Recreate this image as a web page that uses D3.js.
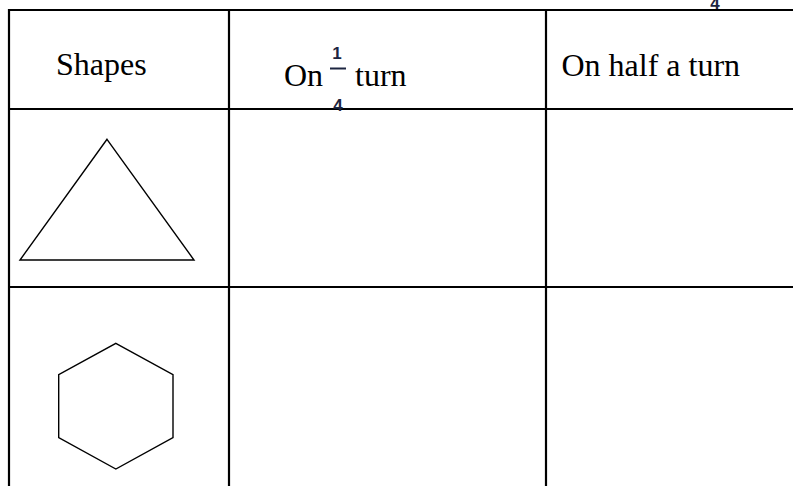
<!DOCTYPE html>
<html>
<head>
<meta charset="utf-8">
<script src="https://cdn.jsdelivr.net/npm/d3@7"></script>
<style>
  body { margin: 0; background: #fff; }
  svg { display: block; }
</style>
</head>
<body>
<div id="chart"></div>
<script>
// table content
var headers = ["Shapes", "On", "On half a turn"];
var fractionTop = "1";
var fractionBottom = "4";
var headerTail = "turn";
var rowShapes = ["triangle", "hexagon"];

// shape outlines in unit coordinates (0..1 inside their box)
var triangle = [[0.5, 0], [1, 1], [0, 1]];
var hexagon = [[0.5, 0], [1, 0.25], [1, 0.75], [0.5, 1], [0, 0.75], [0, 0.25]];
var shapePoints = { triangle: triangle, hexagon: hexagon };

var width = 793, height = 486;
var colEdges = [9, 229, 546, 800];
var rowEdges = [10, 109, 287, 500];
// box of each shape inside its cell
var shapeBox = {
  triangle: { x: [20, 194], y: [139.3, 260] },
  hexagon: { x: [58.7, 173], y: [343.3, 469] }
};

var svg = d3.select("#chart")
  .append("svg")
  .attr("width", width)
  .attr("height", height);

svg.append("rect")
  .attr("width", width)
  .attr("height", height)
  .attr("fill", "#fff");

var fracFont = "Liberation Sans, Arial, sans-serif";
var fracColor = "#1c2540";

// stray denominator peeking above the table
svg.append("text")
  .attr("x", 715)
  .attr("y", 9)
  .attr("text-anchor", "middle")
  .attr("font-family", fracFont)
  .attr("font-weight", "bold")
  .attr("font-size", "17px")
  .attr("fill", fracColor)
  .text(fractionBottom);

// grid lines
var gGrid = svg.append("g")
  .attr("stroke", "#000")
  .attr("stroke-width", 2.2);

gGrid.selectAll(".h-line")
  .data(rowEdges.slice(0, 3))
  .enter()
  .append("line")
  .attr("class", "h-line")
  .attr("x1", colEdges[0] - 1)
  .attr("x2", width)
  .attr("y1", function(d) { return d; })
  .attr("y2", function(d) { return d; });

gGrid.selectAll(".v-line")
  .data(colEdges.slice(0, 3))
  .enter()
  .append("line")
  .attr("class", "v-line")
  .attr("x1", function(d) { return d; })
  .attr("x2", function(d) { return d; })
  .attr("y1", rowEdges[0] - 1)
  .attr("y2", height);

// header texts
var serif = "Liberation Serif, Times New Roman, serif";
var gHead = svg.append("g")
  .attr("font-family", serif)
  .attr("font-size", "32px")
  .attr("fill", "#000");

gHead.append("text").attr("x", 56).attr("y", 75).text(headers[0]);
gHead.append("text").attr("x", 284).attr("y", 85.5).text(headers[1]);
gHead.append("text").attr("x", 355).attr("y", 85.5).text(headerTail);
gHead.append("text").attr("x", 561.5).attr("y", 76).text(headers[2]);

// the 1/4 fraction
var gFrac = svg.append("g")
  .attr("font-family", fracFont)
  .attr("font-weight", "bold")
  .attr("font-size", "17px")
  .attr("fill", fracColor)
  .attr("text-anchor", "middle");

gFrac.append("text").attr("x", 337).attr("y", 59).text(fractionTop);
gFrac.append("text").attr("x", 338).attr("y", 111).text(fractionBottom);
gFrac.append("line")
  .attr("x1", 330).attr("x2", 346)
  .attr("y1", 68.5).attr("y2", 68.5)
  .attr("stroke", fracColor)
  .attr("stroke-width", 2);

// shapes drawn through scales from unit coordinates
var gShapes = svg.append("g")
  .attr("fill", "none")
  .attr("stroke", "#000")
  .attr("stroke-width", 1.4)
  .attr("stroke-linejoin", "miter");

gShapes.selectAll("polygon")
  .data(rowShapes)
  .enter()
  .append("polygon")
  .attr("points", function(d) {
    var box = shapeBox[d];
    var sx = d3.scaleLinear().domain([0, 1]).range(box.x);
    var sy = d3.scaleLinear().domain([0, 1]).range(box.y);
    return shapePoints[d].map(function(p) {
      return sx(p[0]) + "," + sy(p[1]);
    }).join(" ");
  });
</script>
</body>
</html>
